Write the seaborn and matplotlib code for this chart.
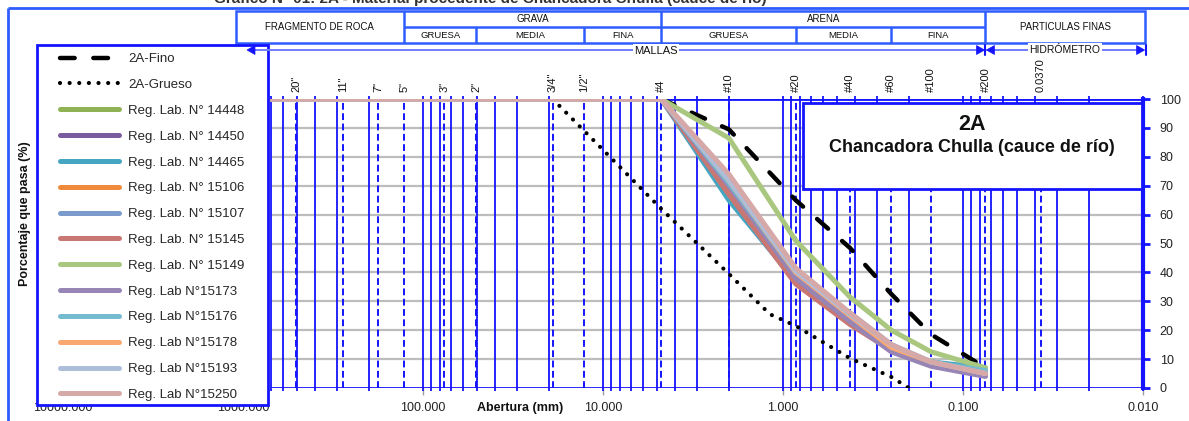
import matplotlib
matplotlib.use("Agg")
import numpy as np
import pandas as pd
import matplotlib.pyplot as plt
import seaborn as sns
from matplotlib.patches import Rectangle, Polygon
from matplotlib.ticker import FixedLocator, FuncFormatter, NullLocator

sns.set_theme(style="white")
plt.rcParams["font.family"] = ["Liberation Sans", "DejaVu Sans"]
NARROW = ["Liberation Sans Narrow", "Liberation Sans", "DejaVu Sans"]

W, H, DPI = 1189, 421, 100

# sieve openings marked along the top of the grid (mm)
SIEVE_LABELS = ['20"', '11"', '7"', '5"', '3"', '2"', '3/4"', '1/2"',
                "#4", "#10", "#20", "#40", "#60", "#100", "#200", "0.0370"]
SIEVE_MM = [508.0, 279.4, 177.8, 127.0, 76.2, 50.8, 19.05, 12.7,
            4.75, 2.0, 0.85, 0.425, 0.25, 0.15, 0.075, 0.037]

# gradation band 2A
FINO_MM = [4.75, 2.0, 0.85, 0.425, 0.25, 0.15, 0.075]
FINO_PCT = [100, 89.5, 65, 48.5, 32.5, 18.5, 7]
GRUESO_MM = [19.05, 9.5, 4.75, 2.0, 1.18, 0.85, 0.425, 0.25, 0.2]
GRUESO_PCT = [100, 81, 62, 39.5, 25.5, 21.5, 10.3, 3.8, 0]

# laboratory samples
LAB_MM = [700.0, 4.75, 2.0, 0.85, 0.425, 0.25, 0.15, 0.075]
LAB_NAMES = ["Reg. Lab. N° 14448", "Reg. Lab. N° 14450", "Reg. Lab. N° 14465",
             "Reg. Lab. N° 15106", "Reg. Lab. N° 15107", "Reg. Lab. N° 15145",
             "Reg. Lab. N° 15149", "Reg. Lab N°15173", "Reg. Lab N°15176",
             "Reg. Lab N°15178", "Reg. Lab N°15193", "Reg. Lab N°15250"]
LAB_COLORS = ["#8fb354", "#7a5c9e", "#45a6c2", "#ef8a3c", "#7b9bcd", "#c97773",
              "#a9c77f", "#9785b6", "#74bad0", "#f9a872", "#adbedb", "#d6a9a8"]
PCT_14448 = [100, 100, 69, 38, 24, 14, 9, 5.5]
PCT_14450 = [100, 100, 68, 37, 23, 13, 8, 4.5]
PCT_14465 = [100, 100, 65, 37, 24, 14, 9, 7]
PCT_15106 = [100, 100, 69, 38, 24, 14, 8.5, 5]
PCT_15107 = [100, 100, 70, 39, 25, 14, 8.5, 5]
PCT_15145 = [100, 100, 67, 36, 22, 13, 8, 5]
PCT_15149 = [100, 100, 86.5, 51, 31.5, 20, 12.5, 7]
PCT_15173 = [100, 100, 70, 38, 23, 12.5, 7.5, 4]
PCT_15176 = [100, 100, 71, 40, 26, 15, 9, 6]
PCT_15178 = [100, 100, 72, 40, 25, 14, 9, 5]
PCT_15193 = [100, 100, 72, 40.5, 25.5, 15, 9, 5]
PCT_15250 = [100, 100, 74, 41.5, 26, 15, 9, 5]
LAB_PCT = [PCT_14448, PCT_14450, PCT_14465, PCT_15106, PCT_15107, PCT_15145,
           PCT_15149, PCT_15173, PCT_15176, PCT_15178, PCT_15193, PCT_15250]

Y_TICKS = list(range(0, 101, 10))
X_TICKS = [10000, 1000, 100, 10, 1, 0.1, 0.01]

GRID_BLUE = "#1414ff"
FRAME_BLUE = "#2f5cff"
GRID_GRAY = "#bdbdbd"

fig = plt.figure(figsize=(W / DPI, H / DPI), dpi=DPI)
fig.patch.set_facecolor("white")


def fx(px):
    return px / W


def fy(py):
    return 1 - py / H


ax = fig.add_axes([fx(63), fy(388), fx(1143) - fx(63), fy(99) - fy(388)])
ax.set_facecolor("none")
ax.set_xscale("log")
ax.set_xlim(10000, 0.01)
ax.set_ylim(0, 100)

# grid of the sieve region: log-cycle lines, sieve lines, percentage lines
grid_mm = [m * 10.0 ** k for k in range(-2, 3) for m in range(1, 10)
           if 0.01 <= m * 10.0 ** k <= 700]
ax.hlines(Y_TICKS[1:-1], 700, 0.01, colors=GRID_GRAY, lw=1.6, zorder=1)
ax.vlines(grid_mm, -1.2, 101, colors=GRID_BLUE, lw=1.3, zorder=1.5, clip_on=False)
ax.vlines(SIEVE_MM, 0, 100, colors=GRID_BLUE, lw=1.4,
          linestyles=(0, (3.5, 1.8)), zorder=1.6)
ax.hlines([0, 100], 700, 0.01, colors=GRID_BLUE, lw=2, zorder=1.7)


def curve(mm, pct, **kw):
    df = pd.DataFrame({"mm": mm, "pct": pct})
    sns.lineplot(data=df, x="mm", y="pct", ax=ax, sort=False,
                 estimator=None, legend=False, **kw)


curve(FINO_MM, FINO_PCT, color="black", lw=3.2, linestyle=(0, (3.3, 4.2)),
      dash_capstyle="round", label="2A-Fino", zorder=3)
curve(GRUESO_MM, GRUESO_PCT, color="black", lw=3.0, linestyle=(0, (0.01, 2.3)),
      dash_capstyle="round", label="2A-Grueso", zorder=3)
for name, col, pct in zip(LAB_NAMES, LAB_COLORS, LAB_PCT):
    curve(LAB_MM, pct, color=col, lw=3.6, solid_capstyle="round",
          solid_joinstyle="round", label=name, zorder=4)

ax.set_xlabel("")
ax.set_ylabel("")
for side in ("left", "top", "bottom"):
    ax.spines[side].set_visible(False)
ax.spines["right"].set_color(GRID_BLUE)
ax.spines["right"].set_linewidth(3)

ax.xaxis.set_major_locator(FixedLocator(X_TICKS))
ax.xaxis.set_minor_locator(NullLocator())
ax.xaxis.set_major_formatter(FuncFormatter(lambda v, _: f"{v:.3f}"))
ax.tick_params(axis="x", bottom=True, direction="out", length=5, width=1,
               color="#a0a0a0", labelsize=9, labelcolor="#222222", pad=5)
ax.yaxis.tick_right()
ax.yaxis.set_major_locator(FixedLocator(Y_TICKS))
ax.tick_params(axis="y", right=True, left=False, direction="out", length=5,
               width=2, color=GRID_BLUE, labelsize=9, labelcolor="#222222", pad=7)

# overlay in image pixels for the frame, header table and annotations
ov = fig.add_axes([0, 0, 1, 1], zorder=3)
ov.set_xlim(0, W)
ov.set_ylim(H, 0)
ov.axis("off")
ov.patch.set_alpha(0)


def xp(d):
    return ax.transData.transform((d, 0))[0]


# title line running off the top edge of the sheet
ov.text(490, 2.5, "Gráfico N° 01: 2A - Material procedente de Chancadora Chulla (cauce de río)",
        ha="center", va="baseline", fontsize=11, fontweight="bold", color="#333333",
        clip_on=False)

# outer frame
ov.plot([8, W + 5], [7.5, 7.5], color=FRAME_BLUE, lw=2, solid_capstyle="butt")
ov.plot([8, 8], [7.5, H + 5], color=FRAME_BLUE, lw=2, solid_capstyle="butt")

# soil classification header
t, m, b = 10.7, 26.7, 42.7
x0, x1 = xp(1100.0), xp(0.0098)
xr, xg, xf = xp(127.0), xp(4.75), xp(0.075)
hdr = dict(color=FRAME_BLUE, lw=1.8, solid_capstyle="butt")
ov.add_patch(Rectangle((x0, t), x1 - x0, b - t, fill=False, ec=FRAME_BLUE, lw=1.8))
for xx in (xr, xg, xf):
    ov.plot([xx, xx], [t, b], **hdr)
ov.plot([xr, xf], [m, m], **hdr)
for d in (50.8, 12.7, 0.85, 0.25):
    ov.plot([xp(d), xp(d)], [m, b], **hdr)
hfont = dict(family=NARROW, fontsize=7, color="#111111", ha="center", va="center")
ov.text((x0 + xr) / 2, (t + b) / 2, "FRAGMENTO DE ROCA", **hfont)
ov.text((xr + xg) / 2, (t + m) / 2, "GRAVA", **hfont)
ov.text((xg + xf) / 2, (t + m) / 2, "ARENA", **hfont)
ov.text((xf + x1) / 2, (t + b) / 2, "PARTICULAS FINAS", **hfont)
sub_edges = [127.0, 50.8, 12.7, 4.75, 0.85, 0.25, 0.075]
sub_names = ["GRUESA", "MEDIA", "FINA", "GRUESA", "MEDIA", "FINA"]
for a_, b_, s in zip(sub_edges[:-1], sub_edges[1:], sub_names):
    ov.text((xp(a_) + xp(b_)) / 2, (m + b) / 2 + 0.5, s,
            **{**hfont, "fontsize": 6.8})


# sieve / hydrometer arrows
def arrow_head(x, y, direction):
    L, h = 8, 4.5
    pts = [[x, y], [x - direction * L, y - h], [x - direction * L, y + h]]
    ov.add_patch(Polygon(pts, closed=True, fc=GRID_BLUE, ec=GRID_BLUE, lw=0.5, zorder=6))


ay = 50
ov.plot([252, xf - 2], [ay, ay], color="#6f7cff", lw=1.4, zorder=5)
arrow_head(247, ay, -1)
arrow_head(xf - 1, ay, 1)
ov.plot([xf + 2, x1 - 2], [ay, ay], color="#6f7cff", lw=1.4, zorder=5)
arrow_head(xf + 1, ay, -1)
arrow_head(x1, ay, 1)
ov.plot([xf, xf], [45, 55], color=GRID_BLUE, lw=1.5, zorder=6)
ov.plot([x1 + 1, x1 + 1], [45, 55], color=GRID_BLUE, lw=1.5, zorder=6)
box = dict(boxstyle="square,pad=0.15", fc="white", ec="none")
ov.text(656, ay + 1, "MALLAS", family=NARROW, fontsize=8, ha="center", va="center",
        bbox=box, zorder=7, color="#111111")
ov.text((xf + x1) / 2, ay, "HIDRÓMETRO", family=NARROW, fontsize=7.5, ha="center",
        va="center", bbox=box, zorder=7, color="#111111")

# sieve labels
for lab, d in zip(SIEVE_LABELS, SIEVE_MM):
    ov.text(xp(d), 92, lab, rotation=90, ha="center", va="bottom",
            family=NARROW, fontsize=8, color="#111111")

# legend frame
ov.add_patch(Rectangle((37, 45), 231, 360, fc="white", ec=GRID_BLUE, lw=2, zorder=2))

# title box
ov.add_patch(Rectangle((803, 103), 339, 86, fc="white", ec=GRID_BLUE, lw=2, zorder=2))
ov.text(972, 125, "2A", fontsize=15.5, fontweight="bold", ha="center", va="center",
        color="#111111", zorder=3)
ov.text(972, 148, "Chancadora Chulla (cauce de río)", fontsize=13,
        fontweight="bold", ha="center", va="center", color="#111111", zorder=3)

# axis titles
ov.text(520, 408, "Abertura (mm)", fontsize=9, fontweight="bold", ha="center",
        va="center", color="#111111")
ov.text(25, 214, "Porcentaje que pasa (%)", fontsize=9, fontweight="bold",
        rotation=90, ha="center", va="center", color="#111111")

handles, labels = ax.get_legend_handles_labels()
fig.legend(handles, labels, loc="upper left", bbox_to_anchor=(fx(60), fy(53)),
           frameon=False, borderpad=0, borderaxespad=0, handlelength=4.5,
           handletextpad=0.65, labelspacing=1.03, fontsize=9.5)

fig.savefig("out.png", dpi=DPI, facecolor="white")
